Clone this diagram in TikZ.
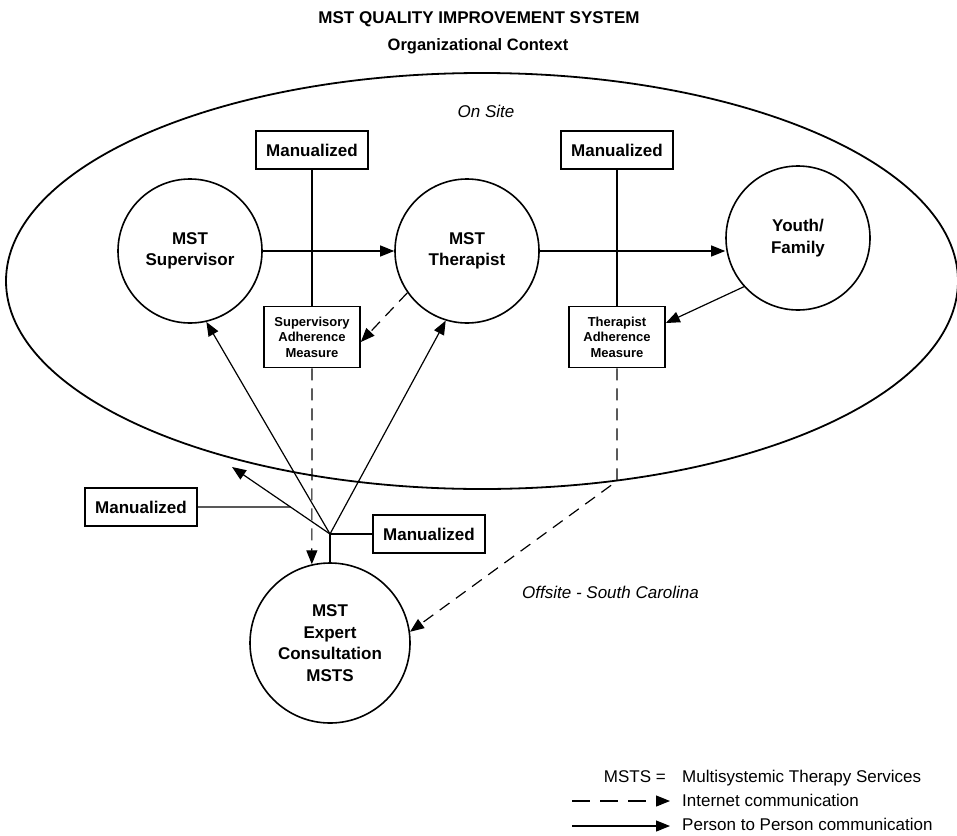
\documentclass[tikz,border=0pt]{standalone}
\usepackage{fontspec}
\setmainfont{Liberation Sans}
\usetikzlibrary{shapes.geometric, arrows.meta, positioning, calc}

\begin{document}
\begin{tikzpicture}[x=1pt, y=-1pt]

        % Define styles for each type of node
        \tikzstyle{agent} = [circle, minimum size=144pt, inner sep=0pt, align=center, draw=black, line width=1.6pt, font=\fontsize{17}{21.5}\selectfont\bfseries]
        \tikzstyle{manual} = [rectangle, minimum width=112pt, minimum height=38pt, text centered, draw=black, line width=1.6pt, font=\fontsize{17}{21}\selectfont\bfseries]
        \tikzstyle{measure} = [rectangle, minimum width=96pt, minimum height=61pt, align=center, draw=black, line width=1.6pt, font=\fontsize{13}{15.5}\selectfont\bfseries]
        \tikzstyle{place} = [inner sep=0pt, font=\fontsize{17}{21}\selectfont\itshape]
        \tikzstyle{keytext} = [inner sep=0pt, font=\fontsize{17}{21}\selectfont]

        % Define arrow styles
        \tikzstyle{arrow} = [line width=1.2pt, -{Triangle[length=14pt, width=11pt]}]
        \tikzstyle{netarrow} = [arrow, dash pattern=on 12pt off 8pt]
        \tikzstyle{link} = [line width=1.2pt]

        \useasboundingbox (0,0) rectangle (957,835);

        % Headings and the on-site context
        \node (title) [anchor=base, inner sep=0pt, font=\fontsize{17}{21}\selectfont\bfseries] at (479,23) {MST QUALITY IMPROVEMENT SYSTEM};
        \node (subtitle) [anchor=base, inner sep=0pt, font=\fontsize{16.5}{21}\selectfont\bfseries] at (478,50) {Organizational Context};
        \draw [line width=1.8pt] (482,281) ellipse [x radius=476pt, y radius=208pt];
        \node (onSite) [place, anchor=base] at (486,117) {On Site};
        \node (offSite) [place, anchor=base west] at (522,598) {Offsite - South Carolina};

        % Nodes
        \node (supervisor) [agent] at (190,251) {MST\\Supervisor};
        \node (therapist) [agent] at (467,251) {MST\\Therapist};
        \node (youthFamily) [agent] at (798,238) {Youth/\\Family};
        \node (expert) [agent, minimum size=160pt] at (330,643) {MST\\Expert\\Consultation\\MSTS};

        \node (manualSup) [manual] at (312,150) {Manualized};
        \node (manualTher) [manual] at (617,150) {Manualized};
        \node (manualCtx) [manual] at (141,507) {Manualized};
        \node (manualExp) [manual] at (429,534) {Manualized};

        \node (supAdherence) [measure] at (312,337) {Supervisory\\Adherence\\Measure};
        \node (therAdherence) [measure] at (617,337) {Therapist\\Adherence\\Measure};

        % Points where connectors meet or turn
        \coordinate (hub) at (330,534);
        \coordinate (ctxEdge) at (232,467);
        \coordinate (bend) at (617,481);

        % Arrows
        \draw [arrow] (supervisor) -- (therapist);
        \draw [arrow] (therapist.east) -- (therapist.east -| youthFamily.west);
        \draw [arrow] (youthFamily.222) -- (therAdherence.16);
        \draw [link] (manualSup) -- (supAdherence);
        \draw [link] (manualTher) -- (therAdherence);

        % Consultation links from the expert team
        \draw [link] (expert.north) -- (hub);
        \draw [link] (manualExp.west) -- (hub);
        \draw [arrow] (hub) -- (supervisor.-77);
        \draw [arrow] (hub) -- (therapist.-107);
        \draw [arrow] (hub) -- (ctxEdge);
        \draw [link] (manualCtx.east) -- (intersection of manualCtx.west--manualCtx.east and hub--ctxEdge);

        % Internet communication
        \draw [netarrow] (therapist.215) -- ([yshift=-5pt]supAdherence.east);
        \draw [netarrow] (supAdherence.south) -- (expert.103);
        \draw [netarrow] (therAdherence.south) -- (bend) -- (expert.8);

        % Key
        \node (mstsKey) [keytext, anchor=base east] at (666,782) {MSTS =};
        \node (mstsText) [keytext, anchor=base west] at (682,782) {Multisystemic Therapy Services};
        \coordinate (netStart) at (572,801);
        \coordinate (netEnd) at (670,801);
        \draw [netarrow, dash pattern=on 18pt off 10pt] (netStart) -- (netEnd);
        \node (netText) [keytext, anchor=base west] at (682,806) {Internet communication};
        \coordinate (personStart) at (572,826);
        \coordinate (personEnd) at (670,826);
        \draw [arrow] (personStart) -- (personEnd);
        \node (personText) [keytext, anchor=base west] at (682,830) {Person to Person communication};

    \end{tikzpicture}
\end{document}
